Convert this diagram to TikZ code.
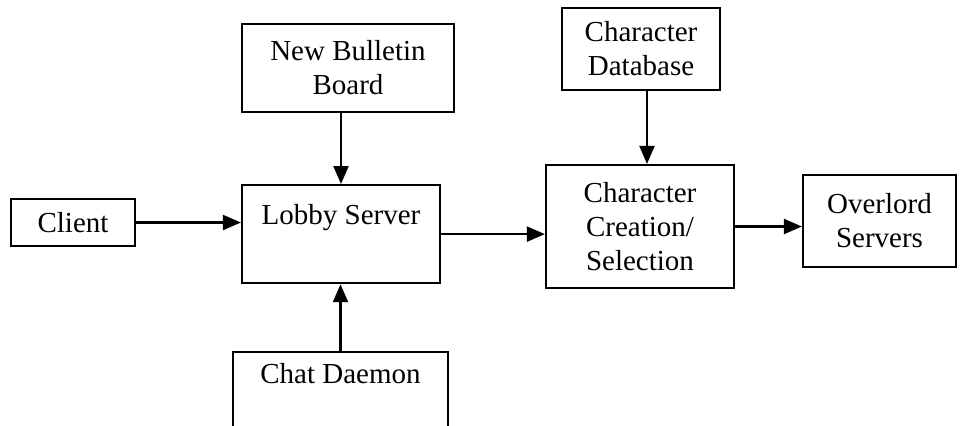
\documentclass[tikz,border=0pt]{standalone}
\usepackage{fontspec}
\setmainfont{Liberation Serif}
\usetikzlibrary{arrows.meta}

\tikzset{
  box/.style={draw,line width=1.1pt,align=center,inner sep=0pt,
    font=\fontsize{14.5}{17}\selectfont},
  flow/.style={-{Triangle[length=9pt,width=7.5pt]},line width=1.1pt},
}

\begin{document}
\begin{tikzpicture}[x=0.5pt,y=-0.5pt]
  \useasboundingbox (0,0) rectangle (962,425);
  \clip (0,0) rectangle (962,425);

  % boxes
  \node[box,minimum width=62pt,minimum height=23.5pt] (client) at (73,222.5) {Client};
  \node[box,minimum width=106pt,minimum height=44pt] (bulletin) at (348,68) {New Bulletin\\Board};
  \node[box,anchor=north,minimum width=99pt,text height=19.5pt,text depth=29.5pt] (lobby) at (341,184) {Lobby Server};
  \node[box,anchor=north,minimum width=107.5pt,text height=15.5pt,text depth=60pt] (chat) at (340.5,351) {Chat Daemon};
  \node[box,minimum width=79pt,minimum height=41pt] (chardb) at (641,49) {Character\\Database};
  \node[box,minimum width=94pt,minimum height=61.5pt] (creation) at (640,226.5) {Character\\Creation/\\Selection};
  \node[box,minimum width=76.5pt,minimum height=46pt] (overlord) at (879.5,221) {Overlord\\Servers};

  % connectors
  \draw[flow] (client.east) -- (client.east -| lobby.west);
  \draw[flow] (bulletin.south -| lobby.north) -- (lobby.north);
  \draw[flow] (chat.north) -- (chat.north |- lobby.south);
  \draw[flow] (lobby.east) -- (lobby.east -| creation.west);
  \draw[flow] ([xshift=3pt]chardb.south) -- ([xshift=3pt]chardb.south |- creation.north);
  \draw[flow] (creation.east) -- (creation.east -| overlord.west);
\end{tikzpicture}
\end{document}
